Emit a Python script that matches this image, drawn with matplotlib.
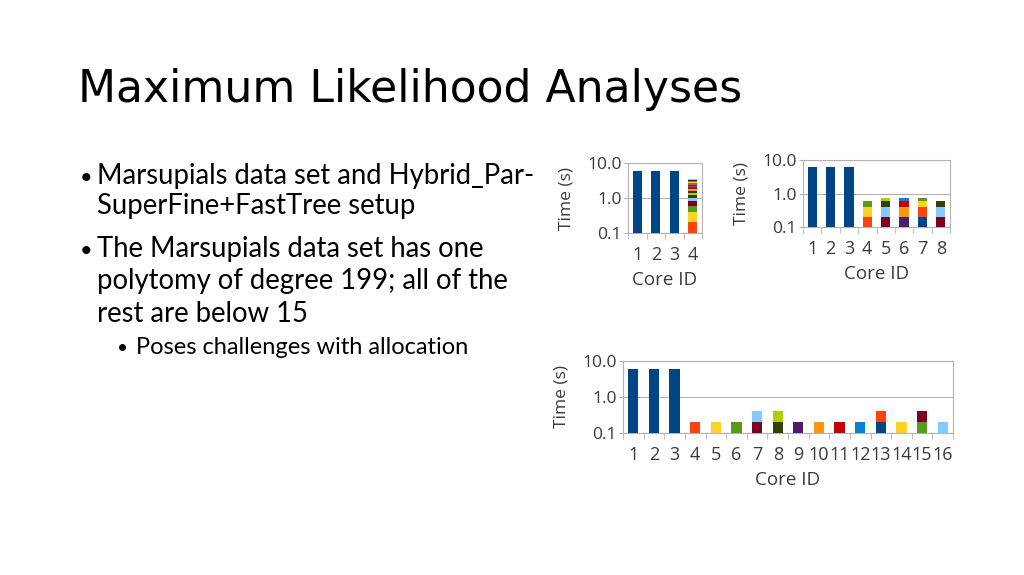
import matplotlib
matplotlib.use("Agg")
import matplotlib.pyplot as plt
import numpy as np

# LibreOffice default series colours, series i uses palette[i % 12]
palette = ["#004586", "#ff420e", "#ffd320", "#579d1c", "#7e0021", "#83caff",
           "#314004", "#aecf00", "#4b1f6f", "#ff950e", "#c5000b", "#0084d1"]

# chart 1: 4 cores
c1_cores = [1, 2, 3, 4]
c1_big = [6.0, 6.0, 6.0]            # series 0 on cores 1-3
c1_task_core = [4, 4, 4, 4, 4, 4, 4, 4, 4, 4, 4, 4, 4, 4, 4, 4, 4]
c1_task_time = [0.2, 0.2, 0.2, 0.2, 0.2, 0.2, 0.2, 0.2, 0.2, 0.2, 0.2, 0.2, 0.2, 0.2, 0.2, 0.2, 0.2]

# chart 2: 8 cores
c2_cores = [1, 2, 3, 4, 5, 6, 7, 8]
c2_big = [6.0, 6.0, 6.0]
c2_task_core = [4, 4, 4, 5, 5, 5, 5, 6, 6, 6, 6, 7, 7, 7, 7, 8, 8, 8]
c2_task_time = [0.2, 0.2, 0.2, 0.2, 0.2, 0.2, 0.15, 0.2, 0.2, 0.2, 0.15,
                0.2, 0.2, 0.2, 0.15, 0.2, 0.2, 0.18]

# chart 3: 16 cores
c3_cores = list(range(1, 17))
c3_big = [6.0, 6.0, 6.0]
c3_task_core = [4, 5, 6, 7, 7, 8, 8, 9, 10, 11, 12, 13, 13, 14, 15, 15, 16]
c3_task_time = [0.2, 0.2, 0.2, 0.2, 0.2, 0.2, 0.2, 0.2, 0.2, 0.2, 0.2, 0.2, 0.2, 0.2, 0.2, 0.2, 0.2]

grey = "#b3b3b3"
label_col = "#3a3a3a"


def draw_chart(ax, cores, big, task_core, task_time):
    n = len(cores)
    x = np.arange(n)
    ax.bar(x[:len(big)], big, width=0.5, color=palette[0], zorder=3)
    tops = np.zeros(n)
    for i, (c, t) in enumerate(zip(task_core, task_time)):
        k = cores.index(c)
        ax.bar(x[k], t, bottom=tops[k], width=0.5,
               color=palette[(i + 1) % len(palette)], zorder=3)
        tops[k] += t
    ax.set_yscale("log")
    ax.set_ylim(0.1, 10)
    ax.set_xlim(-0.5, n - 0.5)
    ax.set_yticks([0.1, 1, 10])
    ax.set_yticklabels(["0.1", "1.0", "10.0"], fontsize=12.5, color=label_col,
                       family="Open Sans")
    ax.yaxis.set_minor_locator(matplotlib.ticker.NullLocator())
    ax.set_xticks(x)
    ax.set_xticklabels([str(c) for c in cores], fontsize=13, color=label_col,
                       family="Open Sans")
    ax.set_xticks(np.arange(n + 1) - 0.5, minor=True)
    ax.tick_params(axis="x", which="major", length=0, pad=9.5)
    ax.tick_params(axis="x", which="minor", length=4, color=grey)
    ax.tick_params(axis="y", length=3, color=grey, pad=1.5)
    ax.grid(axis="y", color=grey, linewidth=0.8, zorder=0)
    for s in ax.spines.values():
        s.set_color(grey)
        s.set_linewidth(0.8)
    ax.set_xlabel("Core ID", fontsize=13.5, color=label_col, family="Open Sans",
                  labelpad=5)
    ax.set_ylabel("Time (s)", fontsize=12.5, color=label_col, family="Open Sans",
                  labelpad=9)


fig = plt.figure(figsize=(10.24, 5.75), dpi=100)
fig.patch.set_facecolor("white")

fig.text(78 / 1024, 1 - 102 / 575, "Maximum Likelihood Analyses",
         fontsize=31.8, family="DejaVu Sans", color="black", va="baseline")

lines = [
    (80, 97, 184, "Marsupials data set and Hybrid_Par-", True, 19.8),
    (80, 97, 214, "SuperFine+FastTree setup", False, 19.8),
    (80, 97, 257, "The Marsupials data set has one", True, 19.8),
    (80, 97, 289, "polytomy of degree 199; all of the", False, 19.8),
    (80, 97, 322, "rest are below 15", False, 19.8),
    (117, 136, 354, "Poses challenges with allocation", True, 17),
]
for bx, tx, by, txt, bullet, fs in lines:
    if bullet:
        fig.text(bx / 1024, 1 - by / 575, "\u2022", fontsize=fs * 0.8,
                 family="Lato", va="baseline")
    fig.text(tx / 1024, 1 - by / 575, txt, fontsize=fs, family="Lato",
             va="baseline")

ax1 = fig.add_axes([628 / 1024, 1 - 233 / 575, 74 / 1024, 70 / 575])
draw_chart(ax1, c1_cores, c1_big, c1_task_core, c1_task_time)

ax2 = fig.add_axes([803 / 1024, 1 - 227 / 575, 147 / 1024, 67 / 575])
draw_chart(ax2, c2_cores, c2_big, c2_task_core, c2_task_time)

ax3 = fig.add_axes([623 / 1024, 1 - 433 / 575, 330 / 1024, 72 / 575])
draw_chart(ax3, c3_cores, c3_big, c3_task_core, c3_task_time)

fig.savefig("out.png", dpi=100)
